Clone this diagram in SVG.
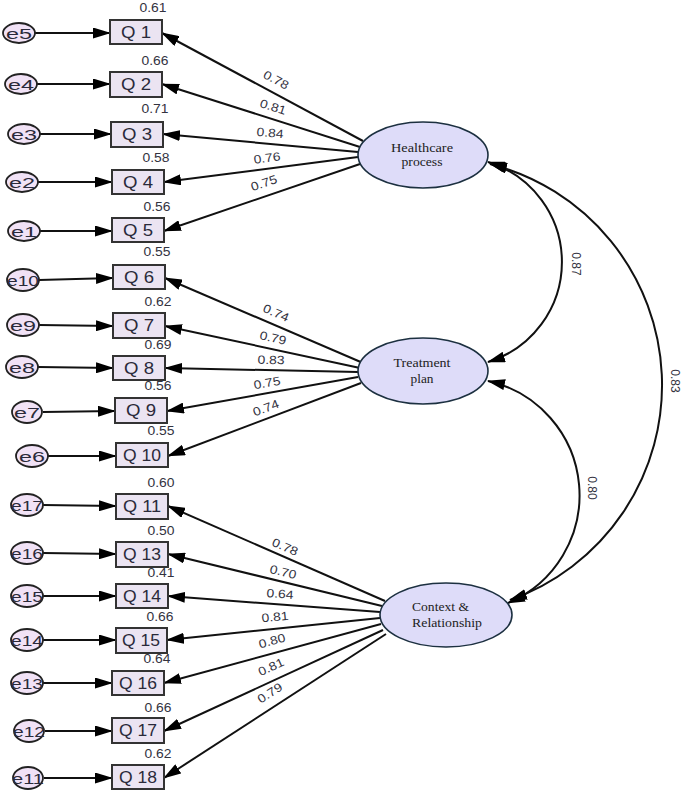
<svg xmlns="http://www.w3.org/2000/svg" width="685" height="795" viewBox="0 0 685 795">
<style>
.bg{fill:#ffffff}
.box rect{fill:#ebe4f2;stroke:#333333;stroke-width:2}
.err ellipse{fill:#f1e2f6;stroke:#222222;stroke-width:1.8}
.lat ellipse{fill:#dedcf9;stroke:#1c3040;stroke-width:1.6}
.qt{font-family:"Liberation Sans",Arial,sans-serif;font-size:17px;fill:#2a2a3a;text-anchor:middle}
.et{font-family:"Liberation Sans",Arial,sans-serif;font-size:15px;fill:#2a2a3a;text-anchor:middle}
.num{font-family:"Liberation Sans",Arial,sans-serif;font-size:12px;fill:#33333f;text-anchor:middle}
.lt{font-family:"Liberation Serif","Times New Roman",serif;font-size:12px;fill:#222222;text-anchor:middle}
.cn line,.cn path{stroke:#111111;stroke-width:2;fill:none}
.ar{marker-end:url(#ah)}
.dbl{marker-start:url(#ah);marker-end:url(#ah)}
</style>
<defs>
<marker id="ah" markerUnits="userSpaceOnUse" markerWidth="18" markerHeight="11" refX="17" refY="5.5" orient="auto-start-reverse" viewBox="0 0 18 11">
<path d="M0,0 L18,5.5 L0,11 z" fill="#000000"/>
</marker>
</defs>
<rect class="bg" x="0" y="0" width="685" height="795"/>

<g id="connectors" class="cn">
<line class="ar" x1="35" y1="33" x2="110" y2="33"/>
<line class="ar" x1="37" y1="84" x2="110" y2="84"/>
<line class="ar" x1="40" y1="134" x2="111" y2="134"/>
<line class="ar" x1="38" y1="182" x2="112" y2="182"/>
<line class="ar" x1="40" y1="231" x2="112" y2="231"/>
<line class="ar" x1="39" y1="280" x2="113" y2="278"/>
<line class="ar" x1="39" y1="325" x2="113" y2="326"/>
<line class="ar" x1="38" y1="367" x2="113" y2="368"/>
<line class="ar" x1="43" y1="412" x2="115" y2="411"/>
<line class="ar" x1="48" y1="456" x2="116" y2="456"/>
<line class="ar" x1="43" y1="505" x2="116" y2="506"/>
<line class="ar" x1="43" y1="553" x2="116" y2="554"/>
<line class="ar" x1="43" y1="596" x2="116" y2="596"/>
<line class="ar" x1="43" y1="640" x2="116" y2="640"/>
<line class="ar" x1="43" y1="683" x2="112" y2="683"/>
<line class="ar" x1="45" y1="731" x2="112" y2="731"/>
<line class="ar" x1="44" y1="778" x2="112" y2="778"/>
<line class="ar" x1="363" y1="141" x2="162" y2="33"/>
<line class="ar" x1="360" y1="147" x2="162" y2="84"/>
<line class="ar" x1="358" y1="152" x2="163" y2="134"/>
<line class="ar" x1="358" y1="157" x2="164" y2="182"/>
<line class="ar" x1="360" y1="164" x2="164" y2="231"/>
<line class="ar" x1="363" y1="363" x2="165" y2="278"/>
<line class="ar" x1="360" y1="368" x2="165" y2="326"/>
<line class="ar" x1="358" y1="372" x2="165" y2="368"/>
<line class="ar" x1="358" y1="377" x2="167" y2="411"/>
<line class="ar" x1="361" y1="383" x2="168" y2="456"/>
<line class="ar" x1="385" y1="601" x2="168" y2="506"/>
<line class="ar" x1="382" y1="606" x2="168" y2="554"/>
<line class="ar" x1="380" y1="612" x2="168" y2="596"/>
<line class="ar" x1="380" y1="618" x2="167" y2="640"/>
<line class="ar" x1="381" y1="624" x2="164" y2="683"/>
<line class="ar" x1="383" y1="630" x2="164" y2="731"/>
<line class="ar" x1="386" y1="634" x2="164" y2="778"/>
<path class="dbl" d="M488,162 A104.6,104.6 0 0 1 488,362"/>
<path class="dbl" d="M488,381 A117,117 0 0 1 508,603"/>
<path class="dbl" d="M490,164 A228,228 0 0 1 510,600"/>
</g>

<g id="labels-loadings" class="num">
<text transform="translate(276,80) rotate(28.2)" y="4" textLength="27" lengthAdjust="spacingAndGlyphs">0.78</text>
<text transform="translate(273,107) rotate(17.7)" y="4" textLength="27" lengthAdjust="spacingAndGlyphs">0.81</text>
<text transform="translate(270,133) rotate(5.3)" y="4" textLength="27" lengthAdjust="spacingAndGlyphs">0.84</text>
<text transform="translate(267,158) rotate(-7.3)" y="4" textLength="27" lengthAdjust="spacingAndGlyphs">0.76</text>
<text transform="translate(264,183) rotate(-18.9)" y="4" textLength="27" lengthAdjust="spacingAndGlyphs">0.75</text>
<text transform="translate(276,313) rotate(23.3)" y="4" textLength="27" lengthAdjust="spacingAndGlyphs">0.74</text>
<text transform="translate(273,338) rotate(12.2)" y="4" textLength="27" lengthAdjust="spacingAndGlyphs">0.79</text>
<text transform="translate(271,360) rotate(1.2)" y="4" textLength="27" lengthAdjust="spacingAndGlyphs">0.83</text>
<text transform="translate(267,383) rotate(-10.1)" y="4" textLength="27" lengthAdjust="spacingAndGlyphs">0.75</text>
<text transform="translate(266,408) rotate(-20.7)" y="4" textLength="27" lengthAdjust="spacingAndGlyphs">0.74</text>
<text transform="translate(285,547) rotate(23.6)" y="4" textLength="27" lengthAdjust="spacingAndGlyphs">0.78</text>
<text transform="translate(283,572) rotate(13.7)" y="4" textLength="27" lengthAdjust="spacingAndGlyphs">0.70</text>
<text transform="translate(280,594) rotate(4.3)" y="4" textLength="27" lengthAdjust="spacingAndGlyphs">0.64</text>
<text transform="translate(275,617) rotate(-5.9)" y="4" textLength="27" lengthAdjust="spacingAndGlyphs">0.81</text>
<text transform="translate(272,641) rotate(-15.2)" y="4" textLength="27" lengthAdjust="spacingAndGlyphs">0.80</text>
<text transform="translate(271,667) rotate(-24.5)" y="4" textLength="27" lengthAdjust="spacingAndGlyphs">0.81</text>
<text transform="translate(270,693) rotate(-32.8)" y="4" textLength="27" lengthAdjust="spacingAndGlyphs">0.79</text>
<text transform="translate(576,264) rotate(90)" y="4">0.87</text>
<text transform="translate(592,488) rotate(90)" y="4">0.80</text>
<text transform="translate(675,381) rotate(90)" y="4">0.83</text>
</g>

<g id="HP" class="lat"><ellipse cx="423" cy="155" rx="65" ry="33"/><text class="lt" x="422" y="152" textLength="62" lengthAdjust="spacingAndGlyphs">Healthcare</text><text class="lt" x="422" y="166" textLength="41" lengthAdjust="spacingAndGlyphs">process</text></g>
<g id="TP" class="lat"><ellipse cx="423" cy="371" rx="65" ry="33"/><text class="lt" x="422" y="367" textLength="57" lengthAdjust="spacingAndGlyphs">Treatment</text><text class="lt" x="422" y="383" textLength="23" lengthAdjust="spacingAndGlyphs">plan</text></g>
<g id="CR" class="lat"><ellipse cx="446" cy="615" rx="66" ry="32"/><text class="lt" x="412" y="611" textLength="57" lengthAdjust="spacingAndGlyphs" style="text-anchor:start">Context &amp;</text><text class="lt" x="412" y="627" textLength="70" lengthAdjust="spacingAndGlyphs" style="text-anchor:start">Relationship</text></g>

<g id="Q1" class="box"><rect x="110" y="20" width="52" height="24"/><text class="qt" x="136" y="38" textLength="30" lengthAdjust="spacingAndGlyphs">Q 1</text><text class="num" x="153" y="12" textLength="27" lengthAdjust="spacingAndGlyphs">0.61</text></g>
<g id="Q2" class="box"><rect x="110" y="72" width="52" height="25"/><text class="qt" x="136" y="90" textLength="30" lengthAdjust="spacingAndGlyphs">Q 2</text><text class="num" x="155" y="65" textLength="27" lengthAdjust="spacingAndGlyphs">0.66</text></g>
<g id="Q3" class="box"><rect x="111" y="122" width="52" height="25"/><text class="qt" x="137" y="140" textLength="30" lengthAdjust="spacingAndGlyphs">Q 3</text><text class="num" x="155" y="113" textLength="27" lengthAdjust="spacingAndGlyphs">0.71</text></g>
<g id="Q4" class="box"><rect x="112" y="170" width="52" height="24"/><text class="qt" x="138" y="188" textLength="30" lengthAdjust="spacingAndGlyphs">Q 4</text><text class="num" x="156" y="162" textLength="27" lengthAdjust="spacingAndGlyphs">0.58</text></g>
<g id="Q5" class="box"><rect x="112" y="218" width="52" height="24"/><text class="qt" x="138" y="236" textLength="30" lengthAdjust="spacingAndGlyphs">Q 5</text><text class="num" x="157" y="211" textLength="27" lengthAdjust="spacingAndGlyphs">0.56</text></g>
<g id="Q6" class="box"><rect x="113" y="265" width="52" height="24"/><text class="qt" x="139" y="283" textLength="30" lengthAdjust="spacingAndGlyphs">Q 6</text><text class="num" x="157" y="256" textLength="27" lengthAdjust="spacingAndGlyphs">0.55</text></g>
<g id="Q7" class="box"><rect x="113" y="313" width="52" height="25"/><text class="qt" x="139" y="331" textLength="30" lengthAdjust="spacingAndGlyphs">Q 7</text><text class="num" x="158" y="306" textLength="27" lengthAdjust="spacingAndGlyphs">0.62</text></g>
<g id="Q8" class="box"><rect x="113" y="356" width="52" height="24"/><text class="qt" x="139" y="374" textLength="30" lengthAdjust="spacingAndGlyphs">Q 8</text><text class="num" x="158" y="349" textLength="27" lengthAdjust="spacingAndGlyphs">0.69</text></g>
<g id="Q9" class="box"><rect x="115" y="398" width="52" height="25"/><text class="qt" x="141" y="416" textLength="30" lengthAdjust="spacingAndGlyphs">Q 9</text><text class="num" x="158" y="390" textLength="27" lengthAdjust="spacingAndGlyphs">0.56</text></g>
<g id="Q10" class="box"><rect x="116" y="443" width="52" height="24"/><text class="qt" x="142" y="461" textLength="38" lengthAdjust="spacingAndGlyphs">Q 10</text><text class="num" x="161" y="435" textLength="27" lengthAdjust="spacingAndGlyphs">0.55</text></g>
<g id="Q11" class="box"><rect x="116" y="494" width="52" height="25"/><text class="qt" x="142" y="512" textLength="38" lengthAdjust="spacingAndGlyphs">Q 11</text><text class="num" x="161" y="487" textLength="27" lengthAdjust="spacingAndGlyphs">0.60</text></g>
<g id="Q13" class="box"><rect x="116" y="542" width="52" height="25"/><text class="qt" x="142" y="560" textLength="38" lengthAdjust="spacingAndGlyphs">Q 13</text><text class="num" x="161" y="535" textLength="27" lengthAdjust="spacingAndGlyphs">0.50</text></g>
<g id="Q14" class="box"><rect x="116" y="584" width="52" height="24"/><text class="qt" x="142" y="602" textLength="38" lengthAdjust="spacingAndGlyphs">Q 14</text><text class="num" x="161" y="577" textLength="27" lengthAdjust="spacingAndGlyphs">0.41</text></g>
<g id="Q15" class="box"><rect x="116" y="628" width="51" height="25"/><text class="qt" x="141" y="646" textLength="38" lengthAdjust="spacingAndGlyphs">Q 15</text><text class="num" x="160" y="621" textLength="27" lengthAdjust="spacingAndGlyphs">0.66</text></g>
<g id="Q16" class="box"><rect x="112" y="671" width="52" height="24"/><text class="qt" x="138" y="689" textLength="38" lengthAdjust="spacingAndGlyphs">Q 16</text><text class="num" x="157" y="663" textLength="27" lengthAdjust="spacingAndGlyphs">0.64</text></g>
<g id="Q17" class="box"><rect x="112" y="718" width="52" height="25"/><text class="qt" x="138" y="736" textLength="38" lengthAdjust="spacingAndGlyphs">Q 17</text><text class="num" x="158" y="712" textLength="27" lengthAdjust="spacingAndGlyphs">0.66</text></g>
<g id="Q18" class="box"><rect x="112" y="765" width="52" height="24"/><text class="qt" x="138" y="783" textLength="38" lengthAdjust="spacingAndGlyphs">Q 18</text><text class="num" x="158" y="758" textLength="27" lengthAdjust="spacingAndGlyphs">0.62</text></g>

<g id="e5" class="err"><ellipse cx="19" cy="33" rx="16" ry="10"/><text class="et" x="19" y="38.5" textLength="26" lengthAdjust="spacingAndGlyphs">e5</text></g>
<g id="e4" class="err"><ellipse cx="21" cy="84" rx="16" ry="10"/><text class="et" x="21" y="89.5" textLength="26" lengthAdjust="spacingAndGlyphs">e4</text></g>
<g id="e3" class="err"><ellipse cx="24" cy="134" rx="16" ry="10"/><text class="et" x="24" y="139.5" textLength="26" lengthAdjust="spacingAndGlyphs">e3</text></g>
<g id="e2" class="err"><ellipse cx="22" cy="182" rx="16" ry="10"/><text class="et" x="22" y="187.5" textLength="26" lengthAdjust="spacingAndGlyphs">e2</text></g>
<g id="e1" class="err"><ellipse cx="24" cy="231" rx="16" ry="10"/><text class="et" x="24" y="236.5" textLength="26" lengthAdjust="spacingAndGlyphs">e1</text></g>
<g id="e10" class="err"><ellipse cx="23" cy="280" rx="16" ry="11"/><text class="et" x="23" y="285.5" textLength="32" lengthAdjust="spacingAndGlyphs">e10</text></g>
<g id="e9" class="err"><ellipse cx="23" cy="325" rx="16" ry="11"/><text class="et" x="23" y="330.5" textLength="26" lengthAdjust="spacingAndGlyphs">e9</text></g>
<g id="e8" class="err"><ellipse cx="22" cy="367" rx="16" ry="11"/><text class="et" x="22" y="372.5" textLength="26" lengthAdjust="spacingAndGlyphs">e8</text></g>
<g id="e7" class="err"><ellipse cx="27" cy="412" rx="15" ry="11"/><text class="et" x="27" y="417.5" textLength="26" lengthAdjust="spacingAndGlyphs">e7</text></g>
<g id="e6" class="err"><ellipse cx="32" cy="456" rx="16" ry="11"/><text class="et" x="32" y="461.5" textLength="26" lengthAdjust="spacingAndGlyphs">e6</text></g>
<g id="e17" class="err"><ellipse cx="27" cy="505" rx="16" ry="11"/><text class="et" x="27" y="510.5" textLength="32" lengthAdjust="spacingAndGlyphs">e17</text></g>
<g id="e16" class="err"><ellipse cx="27" cy="553" rx="16" ry="11"/><text class="et" x="27" y="558.5" textLength="32" lengthAdjust="spacingAndGlyphs">e16</text></g>
<g id="e15" class="err"><ellipse cx="27" cy="596" rx="16" ry="11"/><text class="et" x="27" y="601.5" textLength="32" lengthAdjust="spacingAndGlyphs">e15</text></g>
<g id="e14" class="err"><ellipse cx="27" cy="640" rx="16" ry="11"/><text class="et" x="27" y="645.5" textLength="32" lengthAdjust="spacingAndGlyphs">e14</text></g>
<g id="e13" class="err"><ellipse cx="27" cy="683" rx="16" ry="11"/><text class="et" x="27" y="688.5" textLength="32" lengthAdjust="spacingAndGlyphs">e13</text></g>
<g id="e12" class="err"><ellipse cx="29" cy="731" rx="15" ry="11"/><text class="et" x="29" y="736.5" textLength="32" lengthAdjust="spacingAndGlyphs">e12</text></g>
<g id="e11" class="err"><ellipse cx="28" cy="778" rx="15" ry="11"/><text class="et" x="28" y="783.5" textLength="32" lengthAdjust="spacingAndGlyphs">e11</text></g>
</svg>
